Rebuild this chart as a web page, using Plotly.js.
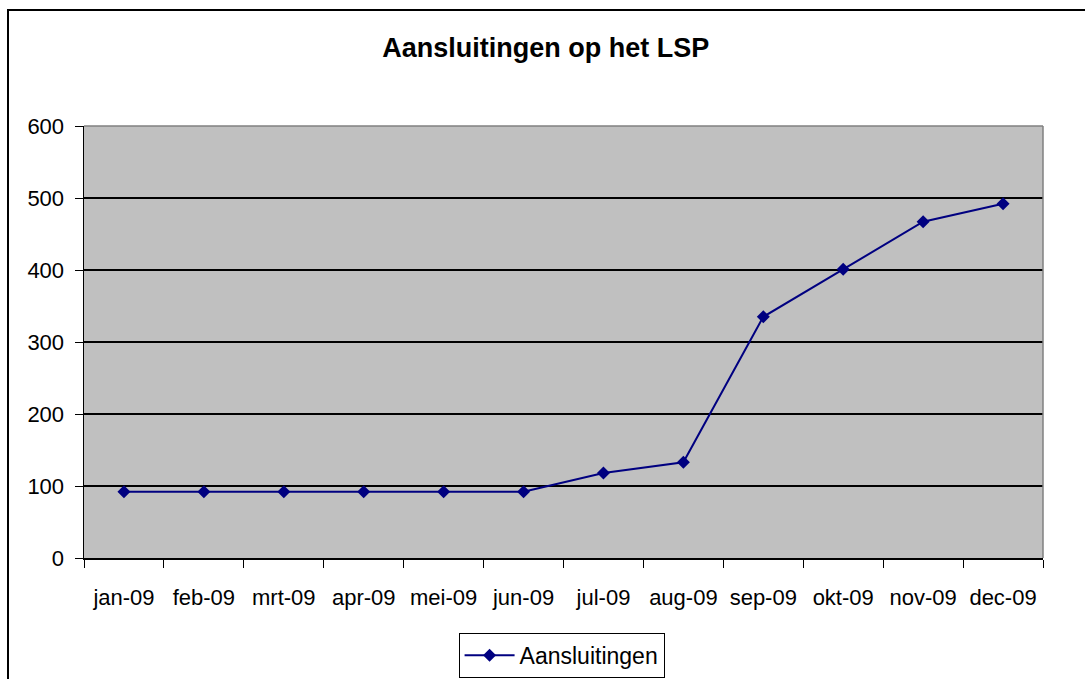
<!DOCTYPE html>
<html>
<head>
<meta charset="utf-8">
<script src="https://cdn.plot.ly/plotly-3.0.1.min.js"></script>
<style>
  html, body { margin: 0; padding: 0; background: #ffffff; }
  #chart { width: 1085px; height: 679px; }
</style>
</head>
<body>
<div id="chart"></div>
<script>
const months = ["jan-09", "feb-09", "mrt-09", "apr-09", "mei-09", "jun-09",
                "jul-09", "aug-09", "sep-09", "okt-09", "nov-09", "dec-09"];
const aansluitingen = [92, 92, 92, 92, 92, 92, 118, 133, 335, 401, 467, 492];
const yTicks = [0, 100, 200, 300, 400, 500, 600];

const FONT = '"Liberation Sans", Arial, sans-serif';

const trace = {
  x: months,
  y: aansluitingen,
  type: 'scatter',
  mode: 'lines+markers',
  name: 'Aansluitingen',
  line: { color: '#000080', width: 2 },
  marker: { symbol: 'diamond', size: 10, color: '#000080' }
};

const layout = {
  width: 1085,
  height: 679,
  margin: { l: 84, r: 42, t: 126, b: 121, autoexpand: false },
  paper_bgcolor: '#ffffff',
  plot_bgcolor: '#c0c0c0',
  font: { family: FONT, size: 22, color: '#000000' },
  title: {
    text: '<b>Aansluitingen op het LSP</b>',
    font: { family: FONT, size: 27, color: '#000000' },
    x: 0.503, xref: 'container', xanchor: 'center',
    y: 0.93, yref: 'container', yanchor: 'middle'
  },
  showlegend: true,
  legend: {
    orientation: 'h',
    x: 0.498, xanchor: 'center',
    y: -0.173, yanchor: 'top',
    bordercolor: '#000000', borderwidth: 1,
    bgcolor: '#ffffff',
    itemwidth: 50,
    font: { family: FONT, size: 23, color: '#000000' }
  },
  xaxis: {
    type: 'category',
    range: [-0.5, 11.5],
    autorange: false,
    tickson: 'boundaries',
    tickangle: 0,
    automargin: false,
    ticks: 'outside', ticklen: 8, tickcolor: '#000000', tickwidth: 1,
    ticklabelstandoff: 19,
    showline: true, linecolor: '#000000', linewidth: 1.5,
    showgrid: false, zeroline: false,
    tickfont: { family: FONT, size: 22, color: '#000000' },
    fixedrange: true
  },
  yaxis: {
    range: [0, 600],
    autorange: false,
    automargin: false,
    tickvals: yTicks,
    ticktext: yTicks.map(String),
    ticks: 'outside', ticklen: 8, tickcolor: '#000000', tickwidth: 1,
    showline: true, linecolor: '#000000', linewidth: 1.5,
    showgrid: true, gridcolor: '#000000', gridwidth: 1.5,
    zeroline: false,
    tickfont: { family: FONT, size: 22, color: '#000000' },
    ticklabelstandoff: 6,
    fixedrange: true
  },
  shapes: [
    { type: 'line', xref: 'paper', yref: 'paper', x0: 0, x1: 1, y0: 1, y1: 1,
      line: { color: '#808080', width: 1.5 }, layer: 'above' },
    { type: 'line', xref: 'paper', yref: 'paper', x0: 1, x1: 1, y0: 0, y1: 1,
      line: { color: '#808080', width: 1.5 }, layer: 'above' },
    { type: 'rect', xref: 'paper', yref: 'paper',
      x0: -76 / 959, x1: 1010 / 959, y0: -140 / 432, y1: 548 / 432,
      line: { color: '#000000', width: 2 }, fillcolor: 'rgba(0,0,0,0)', layer: 'above' }
  ]
};

Plotly.newPlot('chart', [trace], layout, { displayModeBar: false, staticPlot: true });
</script>
</body>
</html>
